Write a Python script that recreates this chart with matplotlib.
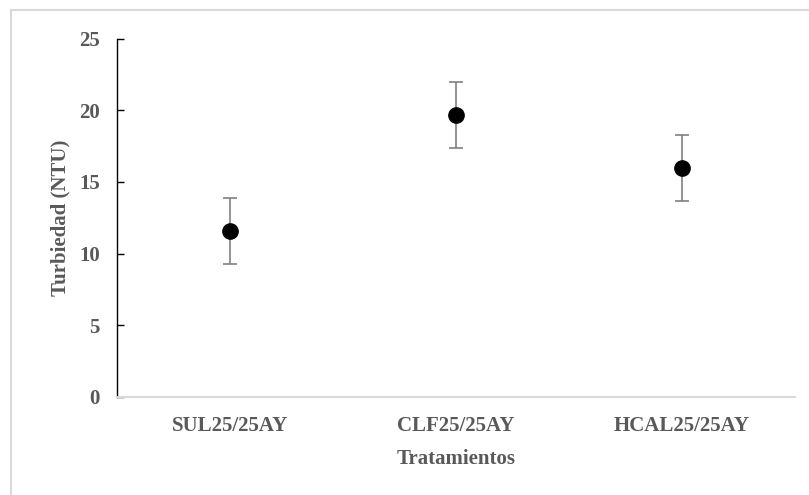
import matplotlib
matplotlib.use("Agg")
import matplotlib.pyplot as plt
from matplotlib.lines import Line2D

# Turbidity per treatment (mean and error)
tratamientos = ["SUL25/25AY", "CLF25/25AY", "HCAL25/25AY"]
turbiedad = [11.6, 19.65, 15.95]
error = [2.3, 2.3, 2.3]
yticks = [0, 5, 10, 15, 20, 25]

W, H = 809, 495
fig = plt.figure(figsize=(W / 100, H / 100), dpi=100)
ax = fig.add_axes([117 / W, 1 - 396.7 / H, (795 - 117) / W, (396.7 - 38.7) / H])

font = {"family": "Liberation Serif", "weight": "bold", "color": "#595959"}
fs = 15

x = list(range(len(tratamientos)))
ax.errorbar(x, turbiedad, yerr=error, fmt="o", color="black", markersize=11,
            ecolor="#808080", elinewidth=1.2, capsize=5, capthick=1.2, zorder=3)

ax.set_xlim(-0.5, len(tratamientos) - 0.5)
ax.set_ylim(0, 25)
ax.set_yticks(yticks)
ax.set_yticklabels([str(v) for v in yticks], fontdict=font, fontsize=fs)
ax.set_xticks(x)
ax.set_xticklabels(tratamientos, fontdict=font, fontsize=fs)

for s in ["top", "right"]:
    ax.spines[s].set_visible(False)
ax.spines["left"].set_color("black")
ax.spines["left"].set_linewidth(1.0)
ax.spines["bottom"].set_color("#d9d9d9")
ax.spines["bottom"].set_linewidth(1.5)

ax.tick_params(axis="y", direction="in", length=5, width=1, color="black", pad=12.5)
ax.tick_params(axis="x", length=0, pad=14)

ax.set_ylabel("Turbiedad (NTU)", fontdict=font, fontsize=fs, labelpad=6)
ax.set_xlabel("Tratamientos", fontdict=font, fontsize=fs, labelpad=9)

# Frame around the chart area (left and top edges)
fig.add_artist(Line2D([11 / W, 11 / W], [0, 1 - 10 / H], transform=fig.transFigure,
                      color="#d9d9d9", linewidth=1.5))
fig.add_artist(Line2D([11 / W, 1], [1 - 10 / H, 1 - 10 / H], transform=fig.transFigure,
                      color="#d9d9d9", linewidth=1.5))

fig.savefig("out.png", dpi=100, facecolor="white")
